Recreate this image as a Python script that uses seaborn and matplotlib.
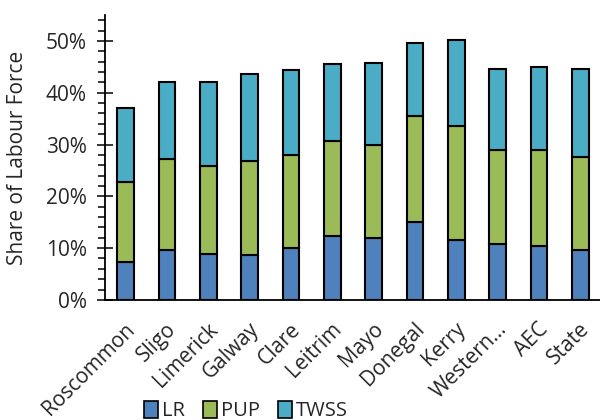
import numpy as np
import pandas as pd
import matplotlib
matplotlib.use("Agg")
import matplotlib.pyplot as plt
import matplotlib.transforms as mtransforms
import seaborn as sns
from matplotlib.ticker import MultipleLocator, PercentFormatter
from matplotlib.patches import Patch

# Data (in percent)
regions = ["Roscommon", "Sligo", "Limerick", "Galway", "Clare", "Leitrim",
           "Mayo", "Donegal", "Kerry", "Western...", "AEC", "State"]
lr = [7.3, 9.6, 8.9, 8.6, 10.1, 12.4, 11.9, 15.1, 11.5, 10.7, 10.4, 9.6]
pup = [15.4, 17.6, 16.9, 18.2, 17.8, 18.3, 18.0, 20.5, 22.1, 18.3, 18.6, 18.0]
twss = [14.3, 14.8, 16.2, 16.8, 16.5, 14.8, 15.9, 14.0, 16.5, 15.6, 15.9, 17.0]

series = ["LR", "PUP", "TWSS"]
colors = {"LR": "#4F81BD", "PUP": "#9BBB59", "TWSS": "#4BACC6"}

df = pd.DataFrame({"Region": regions, "LR": lr, "PUP": pup, "TWSS": twss})

sns.set_style("white")
plt.rcParams["font.family"] = ["Open Sans", "DejaVu Sans"]

fig = plt.figure(figsize=(6, 4.2), dpi=100)
ax = fig.add_axes([0.175, 0.286, 0.83, 0.678])

# stacked bars, one series on top of the other
bottom = np.zeros(len(df))
for name in series:
    ax.bar(df["Region"], df[name], bottom=bottom, width=0.4,
           color=colors[name], edgecolor="black", linewidth=1.5, zorder=3)
    bottom = bottom + df[name].values

ax.set_ylim(0, 55)
ax.set_xlim(-0.5, len(regions) - 0.45)
ax.yaxis.set_major_locator(MultipleLocator(10))
ax.yaxis.set_minor_locator(MultipleLocator(2))
ax.yaxis.set_major_formatter(PercentFormatter(decimals=0))
ax.tick_params(axis="y", which="major", direction="inout", length=12,
               width=1.3, labelsize=15, pad=7, left=True)
ax.tick_params(axis="y", which="minor", direction="out", length=5,
               width=1.3, left=True)
ax.tick_params(axis="x", length=0, labelsize=15, pad=2)

# rotated labels, nudged so their top end sits just right of the tick
offset = mtransforms.ScaledTranslation(-1 / 100, -16 / 100, fig.dpi_scale_trans)
for lab in ax.get_xticklabels():
    lab.set_rotation(45)
    lab.set_ha("right")
    lab.set_rotation_mode("anchor")
    lab.set_transform(lab.get_transform() + offset)

for side in ["top", "right"]:
    ax.spines[side].set_visible(False)
for side in ["left", "bottom"]:
    ax.spines[side].set_linewidth(1.3)
    ax.spines[side].set_color("black")

ax.set_ylabel("Share of Labour Force", fontsize=15)
ax.yaxis.set_label_coords(-0.154, 0.5)

handles = [Patch(facecolor=colors[s], edgecolor="black", linewidth=1.2, label=s)
           for s in series]
fig.legend(handles=handles, loc="center", bbox_to_anchor=(0.41, 0.021),
           ncol=3, frameon=False, fontsize=14.5, handlelength=0.7,
           handleheight=0.9, handletextpad=0.2, columnspacing=0.9)

fig.savefig("out.png", dpi=100)
